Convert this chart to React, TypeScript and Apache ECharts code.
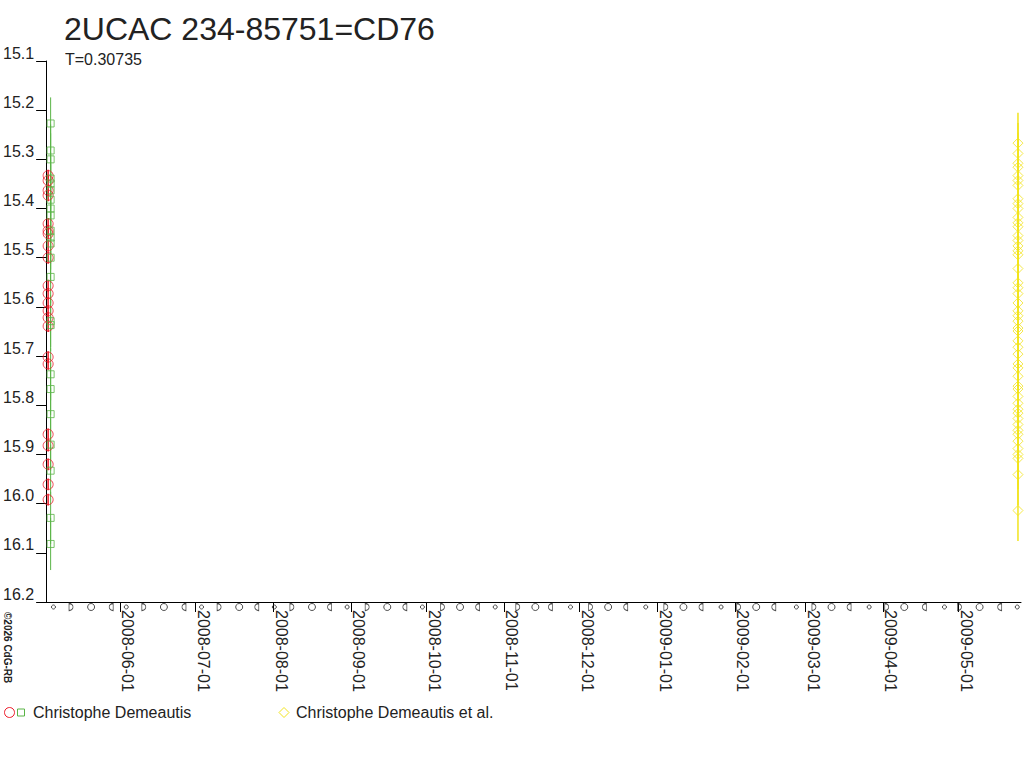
import React, { useEffect, useRef } from "react";
import * as echarts from "echarts";

const titleText = "2UCAC 234-85751=CD76";
const subtitleText = "T=0.30735";
const copyrightText = "©2026 CdG-RB";

const yTicks = [15.1, 15.2, 15.3, 15.4, 15.5, 15.6, 15.7, 15.8, 15.9, 16.0, 16.1, 16.2];
const monthTicks = [
  "2008-06-01", "2008-07-01", "2008-08-01", "2008-09-01", "2008-10-01", "2008-11-01",
  "2008-12-01", "2009-01-01", "2009-02-01", "2009-03-01", "2009-04-01", "2009-05-01",
];

const xMinDate = "2008-05-02T14:00";
const xMaxDate = "2009-05-26T00:00";

// Christophe Demeautis (red circles, green squares) and Christophe Demeautis et al. (yellow)
const redDate = "2008-05-03T09:00";
const redMags = [15.333, 15.343, 15.363, 15.373, 15.431, 15.445, 15.451, 15.476, 15.5, 15.557, 15.573,
  15.592, 15.608, 15.622, 15.639, 15.702, 15.716, 15.859, 15.882, 15.92, 15.961, 15.992];
const redErr = 0.012;

const greenDate = "2008-05-04T09:00";
const greenMags = [15.227, 15.282, 15.3, 15.339, 15.349, 15.363, 15.382, 15.4, 15.414, 15.445, 15.459,
  15.471, 15.5, 15.539, 15.629, 15.637, 15.737, 15.767, 15.818, 15.88, 15.933, 16.029, 16.082];
const greenErr = 0.053;

const yellowDate = "2009-05-24T19:00";
const yellowMags = [15.267, 15.288, 15.308, 15.316, 15.333, 15.343, 15.353, 15.38, 15.39, 15.4, 15.418,
  15.429, 15.437, 15.455, 15.465, 15.476, 15.486, 15.494, 15.522, 15.551, 15.561, 15.573, 15.592, 15.608,
  15.618, 15.629, 15.643, 15.649, 15.669, 15.682, 15.696, 15.716, 15.724, 15.741, 15.761, 15.767, 15.782,
  15.796, 15.808, 15.816, 15.827, 15.839, 15.851, 15.859, 15.873, 15.888, 15.9, 15.908, 15.941, 16.014];
const yellowErr = 0.062;

// Moon phases
const newMoons = ["2008-05-05", "2008-06-03", "2008-07-03", "2008-08-01", "2008-08-30", "2008-09-29",
  "2008-10-28", "2008-11-27", "2008-12-27", "2009-01-26", "2009-02-25", "2009-03-26", "2009-04-25", "2009-05-24"];
const firstQuarters = ["2008-05-12", "2008-06-10", "2008-07-10", "2008-08-08", "2008-09-07", "2008-10-07",
  "2008-11-06", "2008-12-05", "2009-01-04", "2009-02-02", "2009-03-04", "2009-04-02", "2009-05-01"];
const fullMoons = ["2008-05-20", "2008-06-18", "2008-07-18", "2008-08-16", "2008-09-15", "2008-10-14",
  "2008-11-13", "2008-12-12", "2009-01-11", "2009-02-09", "2009-03-11", "2009-04-09", "2009-05-09"];
const lastQuarters = ["2008-05-28", "2008-06-26", "2008-07-25", "2008-08-23", "2008-09-22", "2008-10-21",
  "2008-11-19", "2008-12-19", "2009-01-18", "2009-02-16", "2009-03-18", "2009-04-17", "2009-05-17"];

const RED = "#ee1c2a";
const GREEN = "#5ab446";
const YELLOW = "#f2e41e";
const INK = "#222222";
const FONT = "'Liberation Sans', Arial, sans-serif";

const ts = (s: string) => {
  const full = s.length === 10 ? s + "T12:00" : s;
  return Date.parse(full + ":00Z");
};

const fmtDate = (v: number) => new Date(v).toISOString().slice(0, 10);

export default function App() {
  const ref = useRef<HTMLDivElement>(null);

  useEffect(() => {
    if (!ref.current) return;
    const chart = echarts.init(ref.current, null, { renderer: "svg" });

    const errSeries = (name: string, date: string, mags: number[], err: number, color: string, width: number) => ({
      name,
      type: "custom",
      silent: true,
      z: 1,
      encode: { x: 0, y: 1 },
      data: mags.map((m) => [ts(date), m, err]),
      renderItem: (_p: any, api: any) => {
        const x = api.value(0);
        const y = api.value(1);
        const e = api.value(2);
        const a = api.coord([x, y - e]);
        const b = api.coord([x, y + e]);
        return {
          type: "line",
          shape: { x1: a[0], y1: a[1], x2: b[0], y2: b[1] },
          style: { stroke: color, lineWidth: width },
        };
      },
    });

    const moonSeries = (dates: string[], symbol: string, size: any) => ({
      type: "scatter",
      silent: true,
      clip: false,
      symbol,
      symbolSize: size,
      symbolOffset: [0, 5],
      itemStyle: { color: "none", borderColor: INK, borderWidth: 1 },
      data: dates.map((d) => [ts(d), 16.2]),
      z: 3,
    });

    const option: any = {
      animation: false,
      backgroundColor: "#ffffff",
      textStyle: { fontFamily: FONT },
      grid: { left: 45, right: 3, top: 61, bottom: 166, containLabel: false },
      xAxis: {
        type: "value",
        min: ts(xMinDate),
        max: ts(xMaxDate),
        splitLine: { show: false },
        axisLine: { show: true, onZero: false, lineStyle: { color: "#000", width: 1 } },
        axisTick: {
          show: true,
          length: 10,
          customValues: monthTicks.map((d) => Date.parse(d + "T00:00:00Z")),
          lineStyle: { color: "#000", width: 1 },
        },
        axisLabel: {
          show: true,
          customValues: monthTicks.map((d) => Date.parse(d + "T00:00:00Z")),
          formatter: (v: number) => fmtDate(v),
          rotate: -90,
          verticalAlign: "bottom",
          margin: 8,
          fontSize: 16,
          color: INK,
          fontFamily: FONT,
        },
      },
      yAxis: {
        type: "value",
        inverse: true,
        min: 15.1,
        max: 16.2,
        splitLine: { show: false },
        axisLine: { show: true, onZero: false, lineStyle: { color: "#000", width: 1 } },
        axisTick: { show: true, length: 10, customValues: yTicks, lineStyle: { color: "#000", width: 1 } },
        axisLabel: {
          show: true,
          customValues: yTicks,
          formatter: (v: number) => v.toFixed(1),
          verticalAlign: "bottom",
          margin: 12,
          fontSize: 16,
          color: INK,
          fontFamily: FONT,
        },
      },
      graphic: [
        {
          type: "text",
          left: 64,
          top: 13,
          style: { text: titleText, fontSize: 32, fill: INK, fontFamily: FONT },
        },
        {
          type: "text",
          left: 65,
          top: 51,
          style: { text: subtitleText, fontSize: 16, fill: INK, fontFamily: FONT },
        },
        {
          type: "text",
          x: 2,
          y: 612,
          rotation: -Math.PI / 2,
          style: {
            text: copyrightText,
            fontSize: 10,
            fontWeight: "bold",
            fill: "#222",
            fontFamily: FONT,
            align: "left",
            verticalAlign: "bottom",
          },
        },
        {
          type: "circle",
          shape: { cx: 9.5, cy: 712.5, r: 5 },
          style: { fill: "none", stroke: RED, lineWidth: 1 },
        },
        {
          type: "rect",
          shape: { x: 17.5, y: 709, width: 7, height: 7 },
          style: { fill: "none", stroke: GREEN, lineWidth: 1 },
        },
        {
          type: "text",
          x: 33,
          y: 712,
          style: {
            text: "Christophe Demeautis",
            fontSize: 16,
            fill: INK,
            fontFamily: FONT,
            align: "left",
            verticalAlign: "middle",
          },
        },
        {
          type: "polygon",
          shape: { points: [[284, 707.5], [289, 712.5], [284, 717.5], [279, 712.5]] },
          style: { fill: "none", stroke: YELLOW, lineWidth: 1 },
        },
        {
          type: "text",
          x: 296,
          y: 712,
          style: {
            text: "Christophe Demeautis et al.",
            fontSize: 16,
            fill: INK,
            fontFamily: FONT,
            align: "left",
            verticalAlign: "middle",
          },
        },
      ],
      series: [
        errSeries("redErr", redDate, redMags, redErr, RED, 1.5),
        errSeries("greenErr", greenDate, greenMags, greenErr, GREEN, 1),
        errSeries("yellowErr", yellowDate, yellowMags, yellowErr, YELLOW, 1.5),
        {
          name: "Christophe Demeautis",
          type: "scatter",
          symbol: "circle",
          symbolSize: 10,
          z: 2,
          itemStyle: { color: "none", borderColor: RED, borderWidth: 1 },
          data: redMags.map((m) => [ts(redDate), m]),
        },
        {
          name: "Christophe Demeautis ",
          type: "scatter",
          symbol: "rect",
          symbolSize: 7,
          z: 2,
          itemStyle: { color: "none", borderColor: GREEN, borderWidth: 1 },
          data: greenMags.map((m) => [ts(greenDate), m]),
        },
        {
          name: "Christophe Demeautis et al.",
          type: "scatter",
          symbol: "diamond",
          symbolSize: 10,
          z: 2,
          itemStyle: { color: "none", borderColor: YELLOW, borderWidth: 1 },
          data: yellowMags.map((m) => [ts(yellowDate), m]),
        },
        moonSeries(newMoons, "circle", 4),
        moonSeries(firstQuarters, "path://M0,0L0,10A5,5,0,0,0,0,0Z", [4, 7]),
        moonSeries(fullMoons, "circle", 7),
        moonSeries(lastQuarters, "path://M5,0L5,10A5,5,0,0,1,5,0Z", [4, 7]),
      ],
    };

    chart.setOption(option);
    return () => chart.dispose();
  }, []);

  return (
    <div
      ref={ref}
      style={{ position: "fixed", left: 0, top: 0, width: 1024, height: 768, background: "#fff" }}
    />
  );
}
